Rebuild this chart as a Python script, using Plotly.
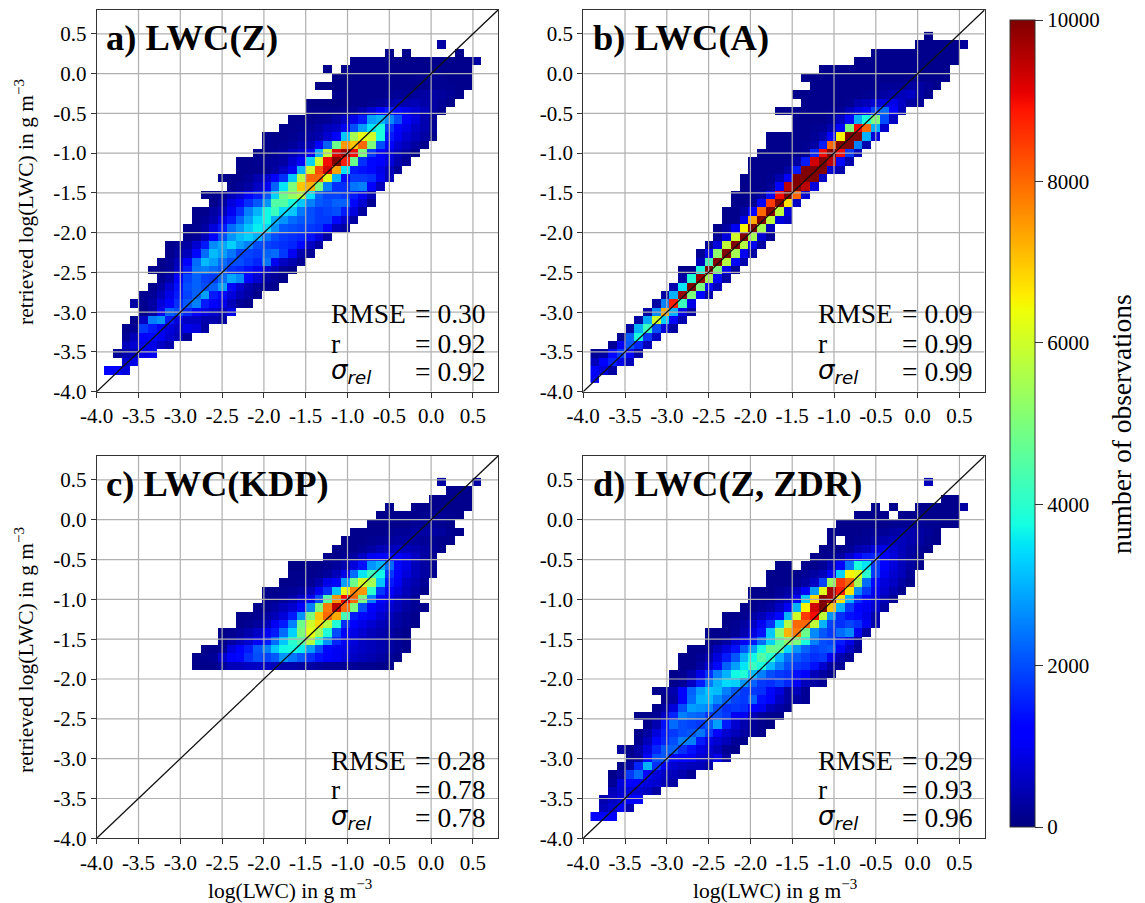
import numpy as np
import plotly.graph_objects as go

TICK_VALUES = [-4.0, -3.5, -3.0, -2.5, -2.0, -1.5, -1.0, -0.5, 0.0, 0.5]
TICK_LABELS = ["-4.0", "-3.5", "-3.0", "-2.5", "-2.0", "-1.5", "-1.0", "-0.5", "0.0", "0.5"]
CBAR_TICKS = [0, 2000, 4000, 6000, 8000, 10000]
CBAR_LABELS = ["0", "2000", "4000", "6000", "8000", "10000"]
TITLES = ["a) LWC(Z)", "b) LWC(A)", "c) LWC(KDP)", "d) LWC(Z, ZDR)"]
RMSE_TEXT = ["0.30", "0.09", "0.28", "0.29"]
R_TEXT = ["0.92", "0.99", "0.78", "0.93"]
SIGMA_TEXT = ["0.92", "0.99", "0.78", "0.96"]

# Histogram rows: {row_bin: [(first_col_bin, [counts...]), ...]}
PANEL_A = {
0:[(0,[1100,1200,800])],
1:[(2,[700,900])],
2:[(1,[200,400,500,900,1000])],
3:[(2,[500,700,900,900,600,400])],
4:[(2,[200,500,1100,1300,1000,700,500,200])],
5:[(2,[100,200,1800,1500,1000,800,600,900,800,300])],
6:[(3,[100,600,2500,2700,1500,800,600,600,400,400,300])],
7:[(4,[100,300,1000,2200,2000,1600,1100,900,700,500,900])],
8:[(3,[300,150,300,800,1200,1700,2100,2500,1500,1200,900,500,200,100])],
9:[(4,[150,200,500,900,1500,1900,2200,2800,1500,1300,800,500,300,100])],
10:[(5,[100,300,700,1400,2000,2200,2000,2200,2800,1300,700,400,200,150,100])],
11:[(6,[150,350,1100,1900,2200,1900,1800,2300,2900,2600,1100,700,300,200,100])],
12:[(5,[100,100,200,600,1500,2400,2500,2300,2100,1700,1600,1400,1000,700,500,200,100])],
13:[(6,[100,200,500,1100,2300,3100,2800,2300,2000,2000,1800,1600,2400,1000,600,400,200])],
14:[(7,[100,300,500,1300,2300,3100,2800,2400,1900,1900,1800,2200,2300,1800,1000,400,200])],
15:[(7,[100,200,300,700,1500,2600,2900,3300,2800,2500,2000,1900,1800,1700,1600,1300,600,300])],
16:[(9,[100,200,500,1200,2000,2700,3100,3300,3000,2400,2000,1800,1700,1600,1400,800,300])],
17:[(9,[100,150,300,800,1500,2300,2700,3200,3600,3400,2700,2100,2000,1900,1800,1700,1100,500,300])],
18:[(10,[100,200,400,900,1500,2200,2800,3400,3700,3000,2700,2300,2100,2000,1800,1800,1300,700,300])],
19:[(10,[100,100,300,500,1000,1700,2500,3000,3700,4200,3400,3200,2400,2000,1800,1900,2000,1500,800,300])],
20:[(12,[100,300,800,1100,1700,2100,2700,4500,4500,3800,3200,2500,2100,2000,2200,2200,1300,700,200])],
21:[(11,[100,100,200,500,700,1100,1500,2100,3300,4800,5300,5700,3500,2200,1900,1900,1800,1500,1000,500])],
22:[(14,[100,200,300,600,1000,2200,3500,5000,7000,7200,5000,2500,1700,1700,2400,2500,1100,500])],
23:[(13,[100,100,100,200,400,700,1100,1700,3200,5700,8000,8000,6200,3000,1300,1800,1800,1700,1000,500])],
24:[(15,[100,100,100,150,300,600,1000,3000,6000,8300,9300,7400,3500,1500,1400,1300,900,500,200])],
25:[(15,[100,100,150,200,250,300,700,1100,3300,6000,9000,10000,8800,4800,1700,1300,1200,800,400,200])],
26:[(17,[100,100,200,300,500,700,1000,3000,5800,9200,9700,9000,5000,1800,1200,800,500,300,100])],
27:[(18,[100,100,150,250,400,500,1100,2200,4800,7500,7000,8000,5000,2000,1200,700,500,300,100])],
28:[(18,[100,100,100,150,250,300,400,700,1100,3200,5500,6300,6000,3800,1500,1000,700,500,300,100])],
29:[(20,[100,100,150,200,300,500,600,1000,2000,2800,3500,3800,1800,1200,900,600,400,200])],
30:[(21,[100,100,100,150,200,350,600,900,1500,2800,3000,2600,2000,1200,800,400,200])],
31:[(23,[100,100,100,100,150,200,400,700,1100,1500,1100,900,700,500,300,150])],
32:[(23,[50,50,50,50,50,100,100,150,200,350,450,400,450,350,300,200,100])],
33:[(26,[100,100,100,100,100,100,150,200,200,250,300,300,250,200,100])],
34:[(24,[50,50,50,50,100,100,100,100,100,100,100,100,100,150,150,150,100,100])],
35:[(26,[50,50,100,100,100,100,100,100,100,150,150,150,150,100,100,100])],
36:[(25,[100]),(27,[100,100,100,100,100,100,100,100,100,100,100,100,100,100,100])],
37:[(28,[100,100,100,100,100,100,100,100,100,100,100,100,100,100,300])],
38:[(32,[100]),(34,[100]),(40,[100])],
39:[(38,[300])],
}
PANEL_B = {
-1:[(0,[1000])],
0:[(0,[1100,800,300])],
1:[(0,[500,1100,1600,900,500])],
2:[(0,[200,300,1300,1800,1100,300])],
3:[(2,[200,1000,2100,1600,500])],
4:[(3,[200,2200,3800,1800,600])],
5:[(4,[300,3000,4200,2000,800,300])],
6:[(5,[300,2900,6000,3300,1100,400])],
7:[(6,[300,2600,7300,3000,900,300])],
8:[(7,[300,2500,8800,4200,900])],
9:[(8,[300,3000,9800,5000,1300,400])],
10:[(9,[400,3500,10000,5000,1300,500])],
11:[(10,[300,3900,9800,5500,1300,300])],
12:[(10,[100,100,3800,10000,5000,1000,200])],
13:[(12,[500,4300,10000,5700,1200,400])],
14:[(12,[200,1000,5200,10000,5500,1000,300])],
15:[(13,[200,800,5800,10000,5700,1000,300])],
16:[(14,[200,800,6000,10000,5500,700,200])],
17:[(14,[100,300,1000,6500,10000,5500,500])],
18:[(15,[100,100,900,7300,10000,5800,800,600])],
19:[(15,[100,100,300,1200,8000,10000,5800,800])],
20:[(16,[100,100,200,1100,8500,10000,6700,600])],
21:[(16,[100,100,150,300,1300,9000,10000,8000,700])],
22:[(17,[100,100,100,200,1100,9500,10000,9500,800])],
23:[(17,[100,100,100,150,400,1200,10000,10000,10000,600])],
24:[(18,[100,100,100,100,300,1500,10000,10000,10000,700,400])],
25:[(18,[100,100,100,100,100,300,1500,9300,10000,9500,1300,400])],
26:[(19,[100,100,100,100,100,200,1600,9000,10000,9000,1800,500])],
27:[(20,[100,100,100,100,150,300,1500,8000,10000,10000,2500,400])],
28:[(20,[100,100,100,100,100,200,400,1200,6500,10000,10000,3000,800])],
29:[(23,[100,100,150,200,400,1200,5000,9000,8000,3000,700])],
30:[(23,[100,100,100,100,200,600,1100,3000,3800,5000,2000,600])],
31:[(21,[100,100,100,100,100,100,150,200,500,800,1000,1900,2300,1100,500])],
32:[(24,[100,100,100,100,100,150,400,500,700,800,900,600,300,200])],
33:[(23,[100,100,100,100,100,100,100,100,150,200,300,400,500,600,300,150])],
34:[(25,[100,100,100,100,100,100,100,100,200,200,200,300,300,200,100])],
35:[(24,[100,100,100,100,100,100,100,100,100,100,100,100,100,100,100,100,100])],
36:[(26,[100,100,100,100,100,100,100,100,100,100,100,100,100,100,100])],
37:[(30,[100,100,100,100,100,100,100,100,100,100,100,100])],
38:[(32,[100,100,100,100,100,100,100,100,100,100])],
39:[(37,[100,100,100,100,100,250])],
40:[(38,[100])],
}
PANEL_C = {
18:[(10,[100,100,100,300,500,500,600,600,600,500,400,400,300,300,250,200,200,200,200,150,150,100,100])],
19:[(10,[100,150,200,700,1100,1300,1700,2000,1900,2100,2700,2400,2100,1700,1400,1200,1000,800,600,500,400,300,200,100])],
20:[(11,[100,100,200,800,1200,1500,2100,2500,3200,3700,3800,3600,2800,2000,1300,1000,900,700,600,500,400,300,200,100])],
21:[(13,[100,300,500,700,1000,1500,2300,3200,4000,4500,5700,3800,2700,1600,1000,800,600,500,400,300,200,100])],
22:[(13,[100,150,250,400,600,1000,1500,2300,3300,5000,6300,5500,3900,2000,1200,900,700,500,400,300,200,100])],
23:[(15,[100,150,250,500,1000,1500,2500,4800,6000,6800,5700,3900,1700,1200,900,700,500,400,300,200,100])],
24:[(15,[100,100,150,300,500,800,1500,2700,5000,7000,8000,7300,4300,1500,1300,1000,700,500,300,200,100])],
25:[(17,[100,150,300,500,700,1100,2500,5000,7800,9500,8000,5000,2000,1200,900,700,500,300,200,100])],
26:[(18,[100,150,250,400,700,1000,2000,4500,7500,9000,8000,5000,2500,1300,900,600,400,200])],
27:[(18,[100,100,150,200,300,500,1000,1700,3200,6300,7700,7500,4000,1800,1100,800,500,300,100])],
28:[(20,[100,100,150,200,400,900,1200,2800,4800,6000,5500,3200,1500,1000,600,400,200])],
29:[(21,[100,100,100,150,250,500,900,2300,3500,4200,3700,1800,1200,800,500,300,150])],
30:[(21,[50,50,100,100,150,250,400,800,1400,2700,3000,2300,1300,900,500,300,150])],
31:[(25,[100,100,200,300,600,1000,1200,1300,1100,900,600,300,150])],
32:[(26,[100,100,100,200,300,450,500,600,500,400,300,200,100])],
33:[(27,[100,100,100,150,200,250,300,300,250,200,150,100,100])],
34:[(28,[100,100,100,100,150,200,200,300,300,300,250,150,100])],
35:[(30,[100,100,100,100,100,200,200,200,150,100])],
36:[(31,[100,100,100,100,100,150,200,200,150,100])],
37:[(32,[100]),(35,[100,100,100,100,100,100,100])],
38:[(37,[100,100,100,100,100])],
39:[(39,[100,100,100])],
40:[(38,[300]),(42,[300])],
}
PANEL_D = {
0:[(0,[1100,1100,1100])],
1:[(1,[500,700,1100,400])],
2:[(1,[400,600,800,1100,1100])],
3:[(2,[500,700,800,700,600,300])],
4:[(2,[200,800,1200,1100,800,700,500,300])],
5:[(2,[100,300,1800,2300,1100,800,600,500,400,200])],
6:[(3,[100,300,1600,3000,1700,1000,700,600,500,500,300])],
7:[(4,[150,250,1200,2000,2100,1300,1100,1000,700,600,900,300])],
8:[(3,[300,100,350,800,1600,2100,2200,1700,1400,900,700,500,200,100])],
9:[(5,[150,500,1300,1600,2000,2500,2500,1500,900,700,500,200,100])],
10:[(5,[100,300,800,1500,1800,2000,2100,2400,1800,1100,700,500,300,200,100])],
11:[(6,[100,400,1400,2300,2000,1900,1800,2100,2800,1500,700,400,200,100,50])],
12:[(5,[100,100,200,600,1600,2500,2300,2200,1800,2000,1800,1000,1000,500,250,150,100])],
13:[(7,[100,300,800,2000,2800,2700,2600,2000,1700,1800,1700,1100,1000,500,300,150])],
14:[(8,[100,300,1200,2300,3000,3100,2600,2200,1900,1800,2200,1400,1100,600,300,300,200])],
15:[(7,[100,200,400,1200,2200,2800,3200,3100,2500,2100,1800,1800,1700,1300,800,300,500,200])],
16:[(9,[100,200,600,1500,2400,3000,3400,3300,2700,2200,1800,1700,1900,1600,1000,500,300,200])],
17:[(9,[100,150,400,900,1700,2500,3000,3700,3900,3100,2500,2000,1800,1700,1400,1100,500,300,100])],
18:[(10,[100,100,300,700,1300,2200,2800,3500,4200,3800,3100,2500,2000,1800,1700,1400,700,300,200])],
19:[(10,[100,100,200,400,800,1500,2100,3000,3700,4500,4000,3000,2300,2100,1900,1700,1800,1000,400,200])],
20:[(11,[100,100,200,500,800,1400,2100,2800,3800,4800,4700,3400,2700,2200,1900,2000,2100,1200,600,200])],
21:[(13,[100,150,300,700,1000,1500,2300,3300,4500,5200,5000,3800,2500,2000,1900,1500,900,300])],
22:[(13,[100,100,100,200,400,800,1400,3200,5200,7200,7800,4800,2600,2100,1800,2300,2600,1000,300])],
23:[(15,[100,150,300,600,1000,1700,3300,5700,8000,8000,5800,3000,1900,1700,1900,1700,1000,400])],
24:[(15,[100,100,150,300,500,800,1300,3000,6000,8500,9000,5800,2700,1700,1400,1300,900,400])],
25:[(17,[100,100,200,300,600,1000,3000,6500,9300,10000,7000,3000,1800,1200,1000,700,300])],
26:[(18,[100,100,150,300,500,1000,3200,6800,10000,9700,6700,3000,1700,1300,800,500,200])],
27:[(18,[100,100,100,200,300,600,1100,2800,6200,9700,8800,6700,2600,1800,1000,700,400,150])],
28:[(20,[100,100,100,150,300,600,1900,5300,8500,8000,5500,2300,1300,800,600,300,100])],
29:[(20,[100,100,100,100,200,300,500,1200,3300,6500,6200,4000,1800,1000,700,500,200])],
30:[(21,[100,100]),(24,[100,100,200,500,1100,2400,3800,3500,1800,1200,800,500,300,100])],
31:[(25,[100,100,150,300,700,1100,1500,1600,1100,800,500,300,100])],
32:[(26,[100,100,100,200,400,500,800,900,700,500,300,200,100])],
33:[(27,[100]),(29,[100,150,200,300,400,500,500,400,300,150,100])],
34:[(27,[100,100,100,100,150,200,200,300,400,400,300,200,100])],
35:[(28,[100,100,100,100,100,100,150,150,200,200,150,150,100,100])],
36:[(30,[100,100,100,100]),(35,[100,100,100,100,100,100,100])],
37:[(32,[100]),(34,[100]),(37,[100,100,100,100,100,300])],
38:[(40,[100,100])],
40:[(38,[500])],
}
PANELS = [PANEL_A, PANEL_B, PANEL_C, PANEL_D]

COLS, FIRST_ROW, LAST_ROW = 44, -1, 40
X0, DX, Y0, DY = -3.86, 0.105, -3.7275, 0.105

def matrix(panel):
    z = [[None] * COLS for _ in range(LAST_ROW - FIRST_ROW + 1)]
    for r, runs in panel.items():
        for start, vals in runs:
            for k, v in enumerate(vals):
                z[r - FIRST_ROW][start + k] = v
    return z

ANCH = [0, .11, .125, .34, .35, .375, .64, .65, .66, .89, .91, 1]
R = np.interp(ANCH, [0, .35, .66, .89, 1], [0, 0, 1, 1, .5])
G = np.interp(ANCH, [0, .125, .375, .64, .91, 1], [0, 0, 1, 1, 0, 0])
B = np.interp(ANCH, [0, .11, .34, .65, 1], [.5, 1, 1, 0, 0])
JET = [[a, f"rgb({r*255:.0f},{g*255:.0f},{b*255:.0f})"] for a, r, g, b in zip(ANCH, R, G, B)]

W, H = 1145, 903
PAD = 8  # the page's own body margin
SERIF = "Liberation Serif"
LEFTS = [(96.7, 498), (583.2, 984.5), (96.7, 498), (583.2, 984.5)]
TOPS = [(10, 391.7), (10, 391.7), (456, 838.3), (456, 838.3)]
RANGE = [-4.0, 0.8]
GRID = "#b0b0b0"

def fx(px):
    return (px - PAD) / W

def fy(px):
    return 1 - (px - PAD) / H

fig = go.Figure()
layout = {}
ann = []
for i, panel in enumerate(PANELS):
    n = "" if i == 0 else str(i + 1)
    xa, ya = "x" + n, "y" + n
    fig.add_trace(go.Heatmap(z=matrix(panel), x0=X0, dx=DX, y0=Y0 + FIRST_ROW * DY, dy=DY,
                             coloraxis="coloraxis", xaxis=xa, yaxis=ya, hoverongaps=False))
    gx, gy = [], []
    for t in TICK_VALUES[1:]:
        gx += [t, t, None, RANGE[0], RANGE[1], None]
        gy += [RANGE[0], RANGE[1], None, t, t, None]
    fig.add_trace(go.Scatter(x=gx, y=gy, mode="lines", line=dict(color=GRID, width=1.2),
                             showlegend=False, hoverinfo="skip", xaxis=xa, yaxis=ya))
    fig.add_trace(go.Scatter(x=RANGE, y=RANGE, mode="lines", line=dict(color="#111", width=1.3),
                             showlegend=False, hoverinfo="skip", xaxis=xa, yaxis=ya))
    axis = dict(range=RANGE, tickmode="array", tickvals=TICK_VALUES, ticktext=TICK_LABELS,
                showgrid=False, zeroline=False, showline=True, mirror=True, linecolor="#333",
                linewidth=1, ticks="outside", ticklen=5, tickcolor="#333",
                tickfont=dict(family=SERIF, size=21, color="black"))
    l, r = LEFTS[i]
    t, b = TOPS[i]
    layout["xaxis" + n] = dict(axis, domain=[fx(l), fx(r)], anchor=ya, tickangle=0)
    layout["yaxis" + n] = dict(axis, domain=[fy(b), fy(t)], anchor=xa)
    ann.append(dict(x=-3.91, y=0.46, xref=xa, yref=ya, text=f"<b>{TITLES[i]}</b>", showarrow=False,
                    xanchor="left", yanchor="middle", font=dict(family=SERIF, size=36.5, color="black")))
    for yy, label, val, fam, sz in [(-3.02, "RMSE", RMSE_TEXT[i], SERIF, 27.5),
                                    (-3.39, "r", R_TEXT[i], SERIF, 27.5),
                                    (-3.74, "<i>σ<sub>rel</sub></i>", SIGMA_TEXT[i], "DejaVu Sans", 26)]:
        ann.append(dict(x=-1.22, y=yy, xref=xa, yref=ya, text=label, showarrow=False, xanchor="left",
                        yanchor="middle", font=dict(family=fam, size=sz, color="black")))
        ann.append(dict(x=-0.215, y=yy, xref=xa, yref=ya, text="= " + val, showarrow=False, xanchor="left",
                        yanchor="middle", font=dict(family=SERIF, size=27.5, color="black")))

YTITLE = "retrieved log(LWC) in g m<sup>−3</sup>"
XTITLE = "log(LWC) in g m<sup>−3</sup>"
for py in (202, 650):
    ann.append(dict(x=fx(24), y=fy(py), xref="paper", yref="paper", text=YTITLE, textangle=-90,
                    xanchor="center", yanchor="middle", showarrow=False,
                    font=dict(family=SERIF, size=21.5, color="black")))
for px in (290, 775):
    ann.append(dict(x=fx(px), y=fy(889), xref="paper", yref="paper", text=XTITLE, showarrow=False,
                    xanchor="center", yanchor="middle", font=dict(family=SERIF, size=21.5, color="black")))
ann.append(dict(x=fx(1121), y=fy(424), xref="paper", yref="paper", text="number of observations",
                textangle=-90, xanchor="center", yanchor="middle", showarrow=False,
                font=dict(family=SERIF, size=27.5, color="black")))

fig.update_layout(
    width=W, height=H, margin=dict(l=0, r=0, t=0, b=0, autoexpand=False), paper_bgcolor="white",
    plot_bgcolor="white", showlegend=False, annotations=ann,
    coloraxis=dict(cmin=0, cmax=10000, colorscale=JET,
                   colorbar=dict(x=fx(1009.5), xanchor="left", xpad=0, ypad=0, thickness=25,
                                 thicknessmode="pixels", lenmode="fraction", len=(827 - 20) / H,
                                 y=fy(827), yanchor="bottom", tickmode="array", tickvals=CBAR_TICKS,
                                 ticktext=CBAR_LABELS, ticks="outside", ticklen=8, tickcolor="#333",
                                 outlinecolor="#333", outlinewidth=1,
                                 tickfont=dict(family=SERIF, size=21, color="black"))),
    **layout)
fig.write_html("out.html")
